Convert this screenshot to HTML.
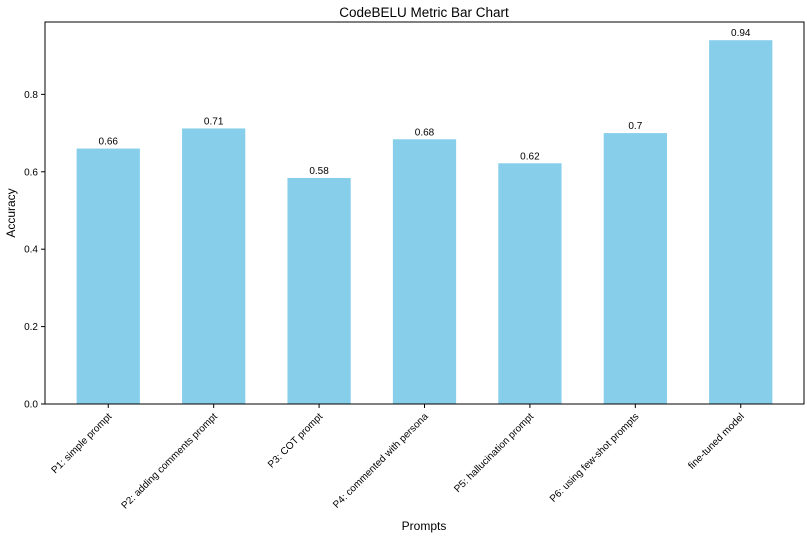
<!DOCTYPE html>
<html><head><meta charset="utf-8"><style>
body{margin:0;background:#fff;}
svg text{font-family:"Liberation Sans","DejaVu Sans",sans-serif;fill:#000;}
</style></head><body>
<svg id="chart" width="807" height="537" viewBox="0 0 807 537">
<text x="424" y="17" font-size="13.5" text-anchor="middle">CodeBELU Metric Bar Chart</text>
<g id="bars"></g><g id="yticks"></g><g id="xticks"></g>
<rect x="45" y="22" width="759" height="382" fill="none" stroke="#000" stroke-width="1"/>
<text x="424" y="530" font-size="12" text-anchor="middle">Prompts</text>
<text transform="translate(15,213) rotate(-90)" font-size="12" text-anchor="middle">Accuracy</text>
</svg>
<script>
const categories=["P1: simple prompt","P2: adding comments prompt","P3: COT prompt","P4: commented with persona","P5: hallucination prompt","P6: using few-shot prompts","fine-tuned model"];
const values=[0.66,0.712,0.584,0.684,0.622,0.70,0.94];
const valueLabels=["0.66","0.71","0.58","0.68","0.62","0.7","0.94"];
const yTicks=[0,0.2,0.4,0.6,0.8];
const yTickLabels=["0.0","0.2","0.4","0.6","0.8"];
const NS="http://www.w3.org/2000/svg";
const L=45,R=804,T=22,B=404;
const xmin=-0.6,xmax=categories.length-0.4,ymax=0.987;
const xs=v=>L+(v-xmin)/(xmax-xmin)*(R-L);
const ys=v=>B-v/ymax*(B-T);
function mk(tag,attrs,parent){const e=document.createElementNS(NS,tag);for(const k in attrs)e.setAttribute(k,attrs[k]);parent.appendChild(e);return e;}
const gb=document.getElementById('bars'),gy=document.getElementById('yticks'),gx=document.getElementById('xticks');
const bw=0.6;
values.forEach((v,i)=>{
 const x0=xs(i-bw/2),x1=xs(i+bw/2);
 const r=mk('rect',{x:x0,y:ys(v),width:x1-x0,height:B-ys(v),fill:'#87ceeb'},gb);
 
 
 const t=mk('text',{x:xs(i),y:ys(v)-4,'font-size':'10','text-anchor':'middle'},gb);
 t.textContent=valueLabels[i];
 
 
 mk('line',{x1:xs(i),x2:xs(i),y1:B,y2:B+4,stroke:'#000'},gx);
 const lt=mk('text',{x:0,y:0,'font-size':'10','text-anchor':'end',transform:`translate(${xs(i)+4},${B+13}) rotate(-45)`},gx);
 lt.textContent=categories[i];
 
 
});
yTicks.forEach((v,i)=>{
 mk('line',{x1:L-4,x2:L,y1:ys(v),y2:ys(v),stroke:'#000'},gy);
 const t=mk('text',{x:L-7,y:ys(v)+3.5,'font-size':'10','text-anchor':'end'},gy);
 t.textContent=yTickLabels[i];
 
 
});
</script>
</body></html>
